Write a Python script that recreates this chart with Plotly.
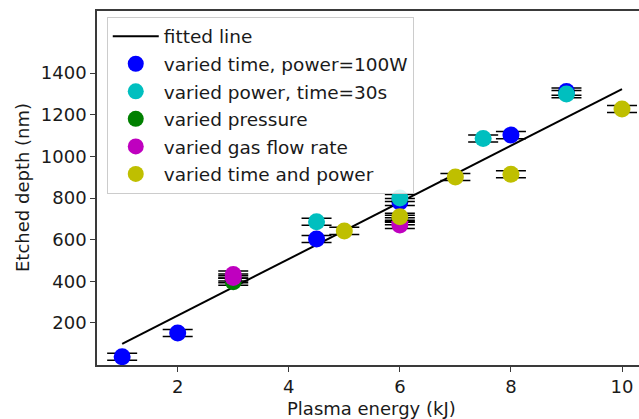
import plotly.graph_objects as go

# Etched depth measurements (nm) against plasma energy (kJ), grouped by what was varied
time_x = [1, 2, 4.5, 6, 8, 9]
time_y = [38, 152, 603, 781, 1102, 1311]

power_x = [4.5, 6, 7.5, 9]
power_y = [686, 800, 1086, 1299]

pressure_x = [3, 3, 6]
pressure_y = [398, 410, 700]

gasflow_x = [3, 3, 6, 6]
gasflow_y = [418, 433, 670, 688]

timepower_x = [5, 6, 7, 8, 10]
timepower_y = [642, 710, 901, 914, 1227]

# Linear fit endpoints
fit_x = [1, 10]
fit_y = [99, 1323]

depth_err = 17

x_ticks = [2, 4, 6, 8, 10]
y_ticks = [200, 400, 600, 800, 1000, 1200, 1400]

FONT = "DejaVu Sans"
TXT = "#1a1a1a"
SPINE = "#3a3a3a"

fig = go.Figure()

fig.add_trace(go.Scatter(
    x=fit_x, y=fit_y, mode="lines", name="fitted line",
    line=dict(color="black", width=2), legendgroup="g0",
))

series = [
    ("varied time, power=100W", time_x, time_y, "#0000ff"),
    ("varied power, time=30s", power_x, power_y, "#00bfbf"),
    ("varied pressure", pressure_x, pressure_y, "#008000"),
    ("varied gas flow rate", gasflow_x, gasflow_y, "#bf00bf"),
    ("varied time and power", timepower_x, timepower_y, "#bfbf00"),
]

for i, (name, xs, ys, col) in enumerate(series):
    fig.add_trace(go.Scatter(
        x=xs, y=ys, mode="markers", name=name, legendgroup=f"g{i+1}",
        marker=dict(color=col, size=17, line=dict(width=0)),
        error_y=dict(type="constant", value=depth_err, color="black",
                     thickness=1.5, width=15),
    ))

fig.update_layout(
    width=639, height=419,
    margin=dict(l=97, r=0, t=11, b=54),
    paper_bgcolor="white", plot_bgcolor="white",
    font=dict(family=FONT, size=18, color=TXT),
    showlegend=True,
    legend=dict(
        x=0.018, y=0.984, xanchor="left", yanchor="top",
        bgcolor="rgba(255,255,255,0.85)", bordercolor="#cccccc", borderwidth=1,
        font=dict(family=FONT, size=18.5, color=TXT),
        itemwidth=46, tracegroupgap=0.5,
    ),
    xaxis=dict(
        range=[0.547, 10.306], tickvals=x_ticks, ticktext=[str(v) for v in x_ticks],
        showgrid=False, zeroline=False,
        showline=True, linecolor=SPINE, linewidth=1.5, mirror=True,
        ticks="outside", ticklen=5, tickwidth=1.2, tickcolor=SPINE,
        tickfont=dict(family=FONT, size=18, color=TXT),
    ),
    yaxis=dict(
        range=[-2, 1698], tickvals=y_ticks, ticktext=[str(v) for v in y_ticks],
        showgrid=False, zeroline=False,
        showline=True, linecolor=SPINE, linewidth=1.5, mirror=False,
        ticks="outside", ticklen=5, tickwidth=1.2, tickcolor=SPINE,
        tickfont=dict(family=FONT, size=18, color=TXT),
    ),
    annotations=[
        dict(text="Plasma energy (kJ)", xref="paper", yref="paper",
             x=0.507, y=0, yshift=-43, xanchor="center", yanchor="middle",
             showarrow=False, font=dict(family=FONT, size=18, color=TXT)),
        dict(text="Etched depth (nm)", xref="paper", yref="paper",
             x=0, xshift=-75, y=0.5, xanchor="center", yanchor="middle",
             textangle=-90, showarrow=False,
             font=dict(family=FONT, size=18, color=TXT)),
    ],
)

fig.write_html("out.html")
